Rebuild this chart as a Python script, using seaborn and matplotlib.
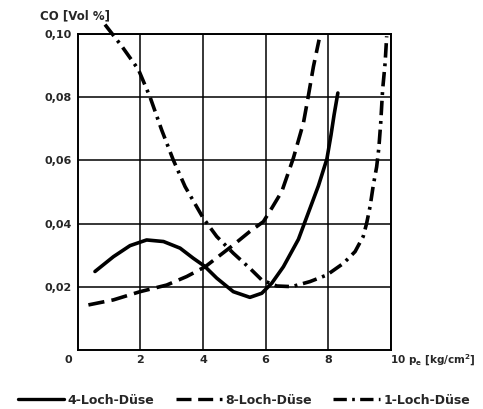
import numpy as np
import pandas as pd
import matplotlib
matplotlib.use("Agg")
import matplotlib.pyplot as plt
import seaborn as sns

# 4-Loch-Düse (solid)
x4 = [0.55, 1.14, 1.67, 2.2, 2.74, 3.27, 3.69, 4.05, 4.44, 4.97, 5.5, 5.88, 6.2, 6.57, 7.05, 7.37, 7.69, 7.96, 8.09, 8.19, 8.31]
y4 = [0.0248, 0.0295, 0.0330, 0.0348, 0.0343, 0.0322, 0.0290, 0.0265, 0.0227, 0.0184, 0.0166, 0.0179, 0.0211, 0.0263, 0.0350, 0.0435, 0.0520, 0.0605, 0.0680, 0.0745, 0.0814]
# 8-Loch-Düse (dashed)
x8 = [0.34, 1.14, 1.99, 2.84, 3.48, 4.07, 4.97, 5.5, 5.93, 6.2, 6.52, 6.89, 7.21, 7.35, 7.53, 7.71]
y8 = [0.0142, 0.0158, 0.0184, 0.0205, 0.0232, 0.0263, 0.0332, 0.0375, 0.0406, 0.0449, 0.0502, 0.0608, 0.0719, 0.0795, 0.0898, 0.0983]
# 1-Loch-Düse (dash-dot)
x1 = [0.87, 1.41, 1.94, 2.31, 2.68, 3.05, 3.43, 4.01, 4.44, 4.97, 5.5, 5.88, 6.36, 6.84, 7.42, 7.96, 8.49, 8.86, 9.12, 9.23, 9.34, 9.44, 9.55, 9.62, 9.68, 9.74, 9.82, 9.87]
y1 = [0.1031, 0.0962, 0.0888, 0.0801, 0.0697, 0.0602, 0.0517, 0.0417, 0.0359, 0.0306, 0.0258, 0.0221, 0.0202, 0.0200, 0.0216, 0.0237, 0.0274, 0.0311, 0.0359, 0.0401, 0.0454, 0.0520, 0.0580, 0.0640, 0.0720, 0.0824, 0.0909, 0.0994]

names = ["4-Loch-Düse", "8-Loch-Düse", "1-Loch-Düse"]
xticks = [2, 4, 6, 8]
yticks = [0.02, 0.04, 0.06, 0.08, 0.10]
ytick_labels = ["0,02", "0,04", "0,06", "0,08", "0,10"]

df = pd.concat([
    pd.DataFrame({"p": x4, "CO": y4, "Düse": names[0]}),
    pd.DataFrame({"p": x8, "CO": y8, "Düse": names[1]}),
    pd.DataFrame({"p": x1, "CO": y1, "Düse": names[2]}),
], ignore_index=True)

sns.set_theme(style="white")
plt.rcParams['font.family'] = ['DejaVu Sans']
plt.rcParams['font.weight'] = 'bold'

fig = plt.figure(figsize=(4.83, 4.09), dpi=100)
ax = fig.add_axes([0.161, 0.145, 0.648, 0.771])

dashes = {names[0]: "", names[1]: (4.5, 2.0), names[2]: (4.0, 1.6, 0.8, 1.6)}
sns.lineplot(data=df, x="p", y="CO", hue="Düse", style="Düse", hue_order=names, style_order=names,
             palette=["black"] * 3, dashes=dashes, estimator=None, sort=False,
             linewidth=2.6, ax=ax, legend=True)
for ln in ax.get_lines():
    ln.set_clip_on(False)
    ln.set_solid_joinstyle("round")

ax.set_xlim(0, 10)
ax.set_ylim(0, 0.10)
ax.set_xticks(xticks + [10])
ax.set_xticklabels([str(v) for v in xticks] + [""])
ax.set_yticks(yticks)
ax.set_yticklabels(ytick_labels)
ax.tick_params(length=0, labelsize=8, pad=4)
for lab in ax.get_xticklabels() + ax.get_yticklabels():
    lab.set_fontweight('bold')
ax.grid(True, color="black", linewidth=1.1)
for s in ax.spines.values():
    s.set_color("black")
    s.set_linewidth(1.4)
ax.set_xlabel("")
ax.set_ylabel("")

ax.text(-0.31, -0.0033, "0", ha="center", va="center", fontsize=8, fontweight="bold", transform=ax.transData)
ax.text(9.97, -0.0033, "10 p$_\\mathbf{e}$ [kg/cm$^\\mathbf{2}$]", ha="left", va="center", fontsize=7.5,
        fontweight="bold", transform=ax.transData)
fig.text(0.083, 0.962, "CO [Vol %]", ha="left", va="center", fontsize=8.5, fontweight="bold")

h, l = ax.get_legend_handles_labels()
ax.get_legend().remove()
leg = fig.legend(h, l, loc="center", bbox_to_anchor=(0.505, 0.022), ncol=3, frameon=False,
                 fontsize=9, handlelength=3.75, handletextpad=0.25, columnspacing=1.7)
for t in leg.get_texts():
    t.set_fontweight('bold')
for ln in leg.get_lines():
    ln.set_linewidth(2.4)

fig.savefig("out.png", dpi=100)
